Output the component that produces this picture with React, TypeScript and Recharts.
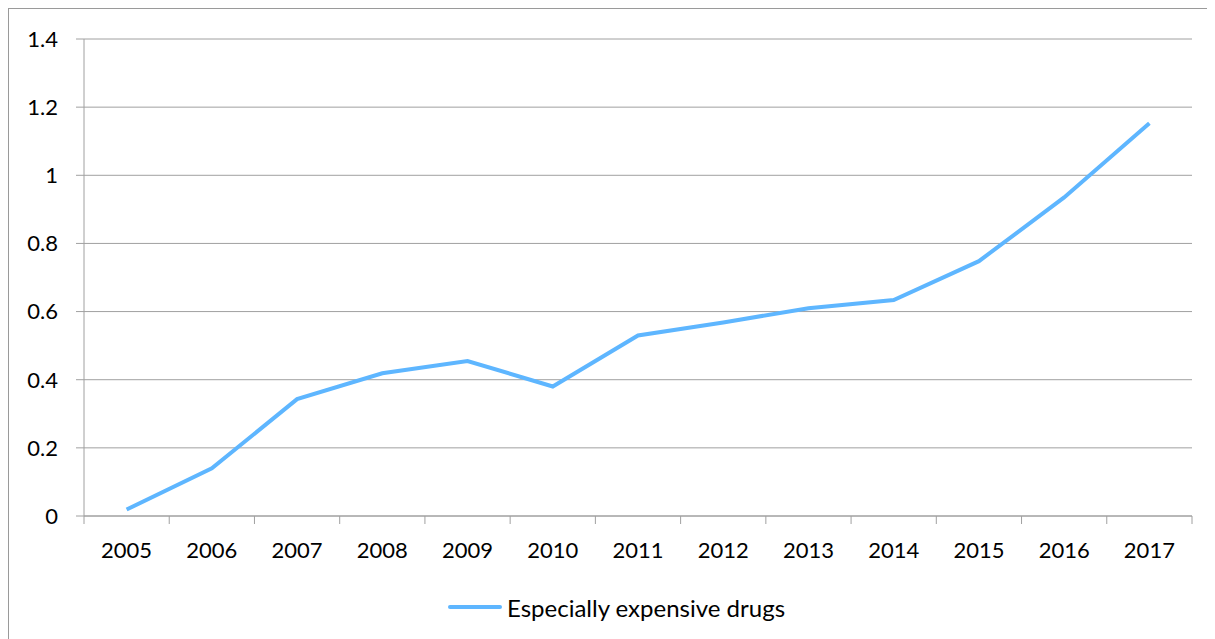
import React from 'react';
import { LineChart, Line, XAxis, YAxis, CartesianGrid, Legend } from 'recharts';

const years = ['2005', '2006', '2007', '2008', '2009', '2010', '2011', '2012', '2013', '2014', '2015', '2016', '2017'];
const expensiveDrugs = [0.019, 0.14, 0.343, 0.419, 0.455, 0.38, 0.53, 0.568, 0.61, 0.634, 0.748, 0.935, 1.153];
const yTicks = [0, 0.2, 0.4, 0.6, 0.8, 1, 1.2, 1.4];
const SERIES_NAME = 'Especially expensive drugs';

const data = years.map((year, i) => ({ year, value: expensiveDrugs[i] }));

const CHART_W = 1206;
const CHART_H = 630;
const Y_AXIS_W = 75;
const MARGIN = { top: 30, right: 23, left: 0, bottom: 0 };
const X_AXIS_H = CHART_H - 507 - MARGIN.bottom;
const HALF_BAND = (CHART_W - Y_AXIS_W - MARGIN.left - MARGIN.right) / years.length / 2;

const FONT = 'Lato, "Open Sans", sans-serif';
const GRID = '#a0a0a0';
const LINE_COLOR = '#5eb6ff';

// Excel-style category ticks: marks sit on the band edges, labels in the middle
const YearTick = (props: any) => {
  const { x, y, payload, index } = props;
  const last = index === years.length - 1;
  return (
    <g>
      <line x1={x - HALF_BAND} x2={x - HALF_BAND} y1={y} y2={y + 8} stroke={GRID} />
      {last && <line x1={x + HALF_BAND} x2={x + HALF_BAND} y1={y} y2={y + 8} stroke={GRID} />}
      <text x={x} y={y + 42} textAnchor="middle" fill="#000" fontSize={22} fontFamily={FONT}>
        {payload.value}
      </text>
    </g>
  );
};

const LegendContent = () => (
  <div style={{ display: 'flex', alignItems: 'center', height: 30, fontFamily: FONT, fontSize: 24, color: '#000' }}>
    <svg width={56} height={10}>
      <line x1={2} x2={52} y1={5} y2={5} stroke={LINE_COLOR} strokeWidth={4} strokeLinecap="round" />
    </svg>
    <span style={{ marginLeft: 3, whiteSpace: 'nowrap' }}>{SERIES_NAME}</span>
  </div>
);

export default function App() {
  return (
    <div
      style={{
        width: CHART_W,
        height: CHART_H,
        borderLeft: '1px solid #9a9a9a',
        borderTop: '1px solid #9a9a9a',
        background: '#fff',
      }}
    >
      <LineChart width={CHART_W} height={CHART_H} data={data} margin={MARGIN}>
        <CartesianGrid vertical={false} stroke={GRID} />
        <XAxis
          dataKey="year"
          scale="band"
          height={X_AXIS_H}
          stroke={GRID}
          tickLine={false}
          tickSize={0}
          tickMargin={0}
          interval={0}
          tick={<YearTick />}
        />
        <YAxis
          width={Y_AXIS_W}
          domain={[0, 1.4]}
          ticks={yTicks}
          stroke={GRID}
          tickSize={8}
          tickMargin={18}
          tick={{ fill: '#000', fontSize: 22, fontFamily: FONT }}
        />
        <Legend
          verticalAlign="middle"
          align="center"
          content={<LegendContent />}
          wrapperStyle={{ left: 439, top: 583, width: 'auto' }}
        />
        <Line
          type="linear"
          dataKey="value"
          name={SERIES_NAME}
          stroke={LINE_COLOR}
          strokeWidth={4}
          dot={false}
          isAnimationActive={false}
        />
      </LineChart>
    </div>
  );
}
